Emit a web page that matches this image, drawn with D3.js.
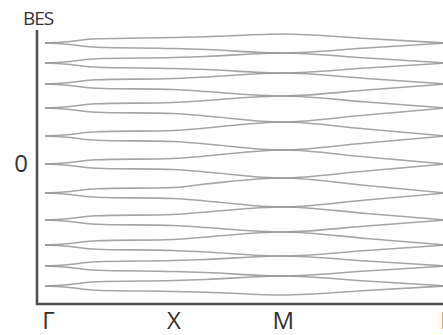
<!DOCTYPE html>
<html>
<head>
<meta charset="utf-8">
<script src="https://cdn.jsdelivr.net/npm/d3@7"></script>
<style>
  body { margin: 0; background: #fff; }
  svg { display: block; }
</style>
</head>
<body>
<div id="chart"></div>
<script>
// k-path sample points (Γ → X → M → Γ)
var kPoints = [0, 0.15, 0.4, 1, 1.25, 1.85, 2.5, 3.12];
var kTicks = [0, 1, 1.85, 3.12];
var kLabels = ["Γ", "X", "M", "Γ"];

// upper branch of each Γ level (arbitrary energy units, 0 = middle level)
var bandsUpper = [
  [12.1, 12.2, 12.52, 12.65, 12.72, 13.0, 12.55, 12.1],
  [10.1, 10.2, 10.52, 10.65, 10.75, 11.1, 10.6, 10.1],
  [8.0, 8.1, 8.42, 8.55, 8.7, 9.1, 8.55, 8.0],
  [5.6, 5.7, 6.02, 6.15, 6.35, 6.8, 6.2, 5.6],
  [2.8, 2.9, 3.22, 3.35, 3.6, 4.2, 3.5, 2.8],
  [0, 0.1, 0.42, 0.55, 0.8, 1.4, 0.7, 0],
  [-2.9, -2.8, -2.48, -2.35, -2.0, -1.4, -2.15, -2.9],
  [-5.6, -5.5, -5.18, -5.05, -4.8, -4.3, -4.95, -5.6],
  [-8.1, -8.0, -7.68, -7.55, -7.3, -6.8, -7.45, -8.1],
  [-10.2, -10.1, -9.78, -9.65, -9.55, -9.2, -9.7, -10.2],
  [-12.2, -12.1, -11.78, -11.65, -11.55, -11.2, -11.7, -12.2]
];

// lower branch of each Γ level
var bandsLower = [
  [12.1, 12.0, 11.68, 11.55, 11.45, 11.1, 11.6, 12.1],
  [10.1, 10.0, 9.68, 9.55, 9.45, 9.1, 9.6, 10.1],
  [8.0, 7.9, 7.58, 7.45, 7.25, 6.8, 7.4, 8.0],
  [5.6, 5.5, 5.18, 5.05, 4.8, 4.2, 4.9, 5.6],
  [2.8, 2.7, 2.38, 2.25, 2.0, 1.4, 2.1, 2.8],
  [0, -0.1, -0.42, -0.55, -0.8, -1.4, -0.7, 0],
  [-2.9, -3.0, -3.32, -3.45, -3.7, -4.3, -3.6, -2.9],
  [-5.6, -5.7, -6.02, -6.15, -6.35, -6.8, -6.2, -5.6],
  [-8.1, -8.2, -8.52, -8.65, -8.8, -9.2, -8.65, -8.1],
  [-10.2, -10.3, -10.62, -10.75, -10.85, -11.2, -10.7, -10.2],
  [-12.2, -12.3, -12.62, -12.75, -12.82, -13.1, -12.65, -12.2]
];

var yTicks = [0];
var yTitle = "BES";

var svgWidth = 443;
var svgHeight = 335;

var svg = d3.select("#chart")
  .append("svg")
    .attr("width", svgWidth)
    .attr("height", svgHeight);

// scales
var xScale = d3.scaleLinear().domain([0, 3.12]).range([45, 446]);
var yScale = d3.scaleLinear().domain([-14, 13.4]).range([304, 30]);

var line = d3.line()
  .x(function(d, i) { return xScale(kPoints[i]); })
  .y(function(d) { return yScale(d); })
  .curve(d3.curveMonotoneX);

var allBands = bandsUpper.concat(bandsLower);

// band lines
svg.append("g")
  .attr("class", "bands")
  .selectAll("path")
  .data(allBands)
  .enter()
  .append("path")
    .attr("d", line)
    .attr("fill", "none")
    .attr("stroke", "#959595")
    .attr("stroke-width", 1.6)
    .attr("stroke-opacity", 0.85);

// axes
var axisX = 37;
var yAxis = d3.axisLeft(yScale)
  .tickValues(yTicks)
  .tickSize(0)
  .tickPadding(9)
  .tickFormat(d3.format("d"));

var yG = svg.append("g")
  .attr("transform", "translate(" + axisX + ",0)")
  .call(yAxis);

var xAxis = d3.axisBottom(xScale)
  .tickValues(kTicks)
  .tickSize(0)
  .tickPadding(8)
  .tickFormat(function(d, i) { return kLabels[i]; });

var xG = svg.append("g")
  .attr("transform", "translate(0," + yScale(-14) + ")")
  .call(xAxis);

// replace default domain paths with plain lines
yG.select(".domain").remove();
xG.select(".domain").remove();

svg.append("line")
  .attr("x1", axisX).attr("x2", axisX)
  .attr("y1", yScale(13.4)).attr("y2", yScale(-14))
  .attr("stroke", "#4d4d4d")
  .attr("stroke-width", 2.5);

svg.append("line")
  .attr("x1", axisX - 1.2).attr("x2", svgWidth)
  .attr("y1", yScale(-14)).attr("y2", yScale(-14))
  .attr("stroke", "#4d4d4d")
  .attr("stroke-width", 2.5);

svg.selectAll(".tick text")
  .attr("font-family", "'Open Sans', sans-serif")
  .attr("font-size", 24)
  .attr("fill", "#333");

// first Γ sits a little right of the band start
xG.selectAll(".tick text").filter(function(d, i) { return i === 0; })
  .attr("dx", 3);

// axis title
svg.append("text")
  .attr("x", axisX + 1)
  .attr("y", 25)
  .attr("text-anchor", "middle")
  .attr("font-family", "'Open Sans', sans-serif")
  .attr("font-size", 19)
  .attr("letter-spacing", -1)
  .attr("fill", "#333")
  .text(yTitle);
</script>
</body>
</html>
